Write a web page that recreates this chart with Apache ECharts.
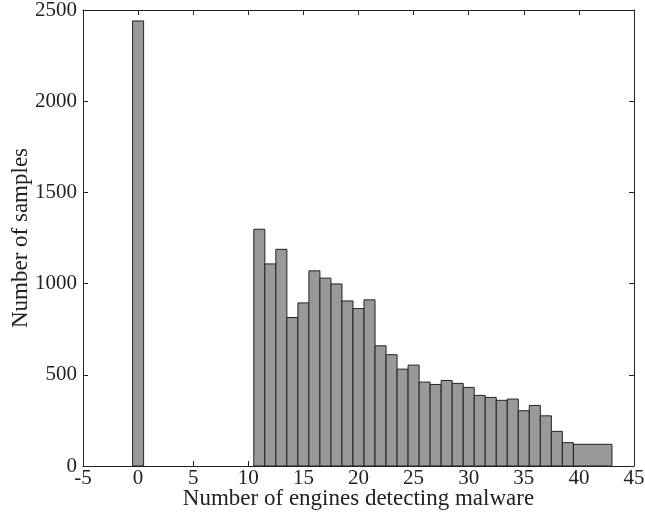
<!DOCTYPE html>
<html>
<head>
    <meta charset="utf-8">
    <title>Engines histogram</title>
    <script src="https://cdn.jsdelivr.net/npm/echarts@6/dist/echarts.min.js"></script>
</head>
<body style="margin:0">
    <div id="main" style="width:645px;height:523px"></div>
    <script type="text/javascript">
        // bin edges and counts
        var binLeft = [-0.5, 10.5, 11.5, 12.5, 13.5, 14.5, 15.5, 16.5, 17.5, 18.5, 19.5, 20.5, 21.5, 22.5, 23.5, 24.5,
            25.5, 26.5, 27.5, 28.5, 29.5, 30.5, 31.5, 32.5, 33.5, 34.5, 35.5, 36.5, 37.5, 38.5, 39.5];
        var binRight = [0.5, 11.5, 12.5, 13.5, 14.5, 15.5, 16.5, 17.5, 18.5, 19.5, 20.5, 21.5, 22.5, 23.5, 24.5, 25.5,
            26.5, 27.5, 28.5, 29.5, 30.5, 31.5, 32.5, 33.5, 34.5, 35.5, 36.5, 37.5, 38.5, 39.5, 43];
        var counts = [2440, 1298, 1108, 1188, 814, 894, 1070, 1030, 998, 905, 863, 911, 659, 610, 531, 553,
            460, 447, 469, 453, 431, 387, 376, 360, 367, 303, 332, 275, 190, 128, 119];
        var xTicks = { min: -5, max: 45, step: 5 };
        var yTicks = { min: 0, max: 2500, step: 500 };

        var font = 'Liberation Serif';
        var rows = [];
        for (var i = 0; i < counts.length; i++) {
            rows.push([binLeft[i], binRight[i], counts[i]]);
        }

        var chart = echarts.init(document.getElementById('main'));
        var lineCol = '#222';
        var plain = function (v) { return String(v); };
        var option = {
            animation: false,
            backgroundColor: '#fff',
            grid: { left: 83, right: 11, top: 10, bottom: 57, containLabel: false, outerBoundsMode: 'none' },
            xAxis: [{
                type: 'value',
                min: xTicks.min, max: xTicks.max, interval: xTicks.step,
                name: 'Number of engines detecting malware',
                nameLocation: 'middle', nameGap: 21, nameMoveOverlap: false,
                nameTextStyle: { fontFamily: font, fontSize: 23, color: '#222' },
                axisLine: { onZero: false, lineStyle: { color: lineCol, width: 1 } },
                axisTick: { inside: true, length: 5, lineStyle: { color: lineCol } },
                axisLabel: { fontFamily: font, fontSize: 21, color: '#222', margin: 2, formatter: plain },
                splitLine: { show: false }
            }, {
                type: 'value', position: 'top',
                min: xTicks.min, max: xTicks.max, interval: xTicks.step,
                axisLine: { onZero: false, lineStyle: { color: lineCol } },
                axisTick: { inside: true, length: 5, lineStyle: { color: lineCol } },
                axisLabel: { show: false },
                splitLine: { show: false }
            }],
            yAxis: [{
                type: 'value',
                min: yTicks.min, max: yTicks.max, interval: yTicks.step,
                name: 'Number of samples',
                nameLocation: 'middle', nameGap: 51, nameMoveOverlap: false,
                nameTextStyle: { fontFamily: font, fontSize: 23, color: '#222' },
                axisLine: { show: true, onZero: false, lineStyle: { color: lineCol } },
                axisTick: { show: true, inside: true, length: 5, lineStyle: { color: lineCol } },
                axisLabel: { fontFamily: font, fontSize: 21, color: '#222', margin: 6, formatter: plain },
                splitLine: { show: false }
            }, {
                type: 'value', position: 'right',
                min: yTicks.min, max: yTicks.max, interval: yTicks.step,
                axisLine: { show: true, onZero: false, lineStyle: { color: lineCol } },
                axisTick: { show: true, inside: true, length: 5, lineStyle: { color: lineCol } },
                axisLabel: { show: false },
                splitLine: { show: false }
            }],
            series: [{
                type: 'custom',
                xAxisIndex: 0,
                yAxisIndex: 0,
                data: rows,
                encode: { x: [0, 1], y: 2 },
                renderItem: function (params, api) {
                    var p0 = api.coord([api.value(0), 0]);
                    var p1 = api.coord([api.value(1), api.value(2)]);
                    return {
                        type: 'rect',
                        shape: { x: p0[0], y: p1[1], width: p1[0] - p0[0], height: p0[1] - p1[1] },
                        style: { fill: '#999999', stroke: '#222', lineWidth: 1 }
                    };
                }
            }]
        };
        chart.setOption(option);
    </script>
</body>
</html>
